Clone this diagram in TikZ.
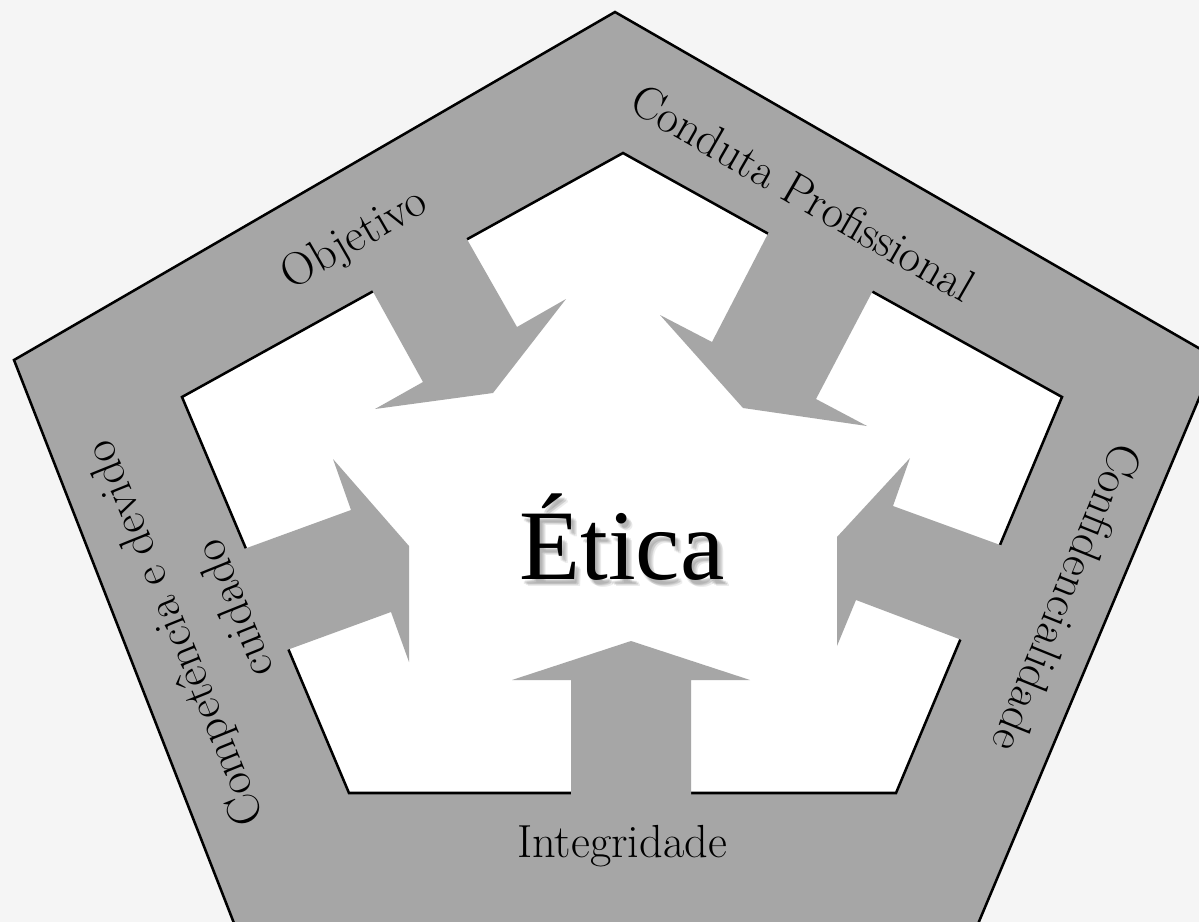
\documentclass[tikz,border=0pt]{standalone}
\usepackage{fontspec}
\newfontfamily\timesfont{Liberation Serif}
\usepackage{xcolor}
\definecolor{mygrey}{RGB}{166,166,166}
\definecolor{mybg}{RGB}{245,245,245}
\colorlet{myshadow}{black!60}
\tikzset{
  frame/.style={line width=1.8pt, line join=miter},
  label/.style={font=\fontsize{33}{46}\selectfont, align=center},
  bigword/.style={anchor=base, font=\timesfont\fontsize{71}{80}\selectfont},
}

\begin{document}
\begin{tikzpicture}[x=0.025cm, y=-0.025cm]
      \useasboundingbox (0,0) rectangle (1199,922);
      \clip (0,0) rectangle (1199,922);
      \fill[mybg] (0,0) rectangle (1199,922);

      % outer pentagon
      \coordinate (o1) at (615,12);
      \coordinate (o2) at (1216,358);
      \coordinate (o3) at (946,1000);
      \coordinate (o4) at (264,1000);
      \coordinate (o5) at (14,360);
      \filldraw[frame, fill=mygrey] (o1) -- (o2) -- (o3) -- (o4) -- (o5) -- cycle;

      % inner pentagon
      \coordinate (i1) at (623,153);
      \coordinate (i2) at (1062,397);
      \coordinate (i3) at (896,793);
      \coordinate (i4) at (349,793);
      \coordinate (i5) at (182,397);
      \filldraw[frame, fill=white] (i1) -- (i2) -- (i3) -- (i4) -- (i5) -- cycle;

      % arrows
      \fill[mygrey] (366,279) -- (423,382) -- (375,409) -- (493,393) -- (566,299) -- (517,327) -- (460,227) -- cycle;
      \fill[mygrey] (774,222) -- (712,342) -- (660,315) -- (743,408) -- (867,426) -- (816,399) -- (879,279) -- cycle;
      \fill[mygrey] (1014,550) -- (893,506) -- (910,458) -- (837,537) -- (837,646) -- (856,600) -- (975,645) -- cycle;
      \fill[mygrey] (691,805) -- (691,680) -- (750,680) -- (631,641) -- (512,680) -- (571,680) -- (571,805) -- cycle;
      \fill[mygrey] (233,553) -- (351,510) -- (333,459) -- (409,546) -- (409,662) -- (391,612) -- (276,654) -- cycle;

      \node[label, rotate=30] (objetivo) at (355,240) {Objetivo};
      \node[label, rotate=-30] (conduta) at (803,193) {Conduta Profissional};
      \node[label, rotate=-112] (confid) at (1068,598) {Confidencialidade};
      \node[label, anchor=base] (integr) at (622,857) {Integridade};
      \node[label, rotate=112] (compet) at (203,622) {Competência e devido\\cuidado};

      % soft shadow
      \foreach \dx/\dy in {3/4,5/5,4/6,6/7,2/5}
        \node[bigword, text=myshadow, opacity=.12] (shadow\dx\dy) at (622+\dx,579+\dy) {Ética};
      \node[bigword] (etica) at (622,579) {Ética};
\end{tikzpicture}
\end{document}
